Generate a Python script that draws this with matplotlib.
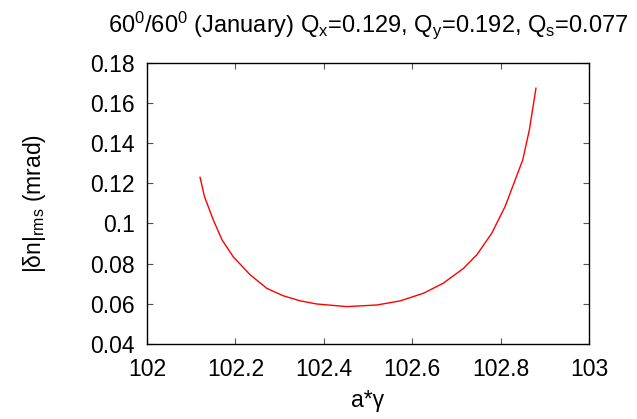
import matplotlib
matplotlib.use("Agg")
import matplotlib.pyplot as plt

plt.rcParams['font.family'] = ['Liberation Sans', 'DejaVu Sans']
plt.rcParams['mathtext.fontset'] = 'custom'
plt.rcParams['mathtext.rm'] = 'Liberation Sans'
plt.rcParams['mathtext.it'] = 'Liberation Sans'
plt.rcParams['mathtext.default'] = 'rm'

a_gamma = [102.12, 102.13, 102.15, 102.17, 102.195, 102.233, 102.271, 102.308,
           102.346, 102.384, 102.452, 102.52, 102.572, 102.625, 102.67, 102.716,
           102.746, 102.78, 102.81, 102.83, 102.85, 102.865, 102.88]
dn_rms = [0.1229, 0.1133, 0.1017, 0.0917, 0.0834, 0.0745, 0.0677, 0.0640,
          0.0615, 0.0599, 0.0586, 0.0594, 0.0614, 0.0652, 0.0702, 0.0776,
          0.0843, 0.0951, 0.1083, 0.1199, 0.1315, 0.1464, 0.1672]

xticks = [102, 102.2, 102.4, 102.6, 102.8, 103]
xticklabels = ['102', '102.2', '102.4', '102.6', '102.8', '103']
yticks = [0.04, 0.06, 0.08, 0.1, 0.12, 0.14, 0.16, 0.18]
yticklabels = ['0.04', '0.06', '0.08', '0.1', '0.12', '0.14', '0.16', '0.18']

fig = plt.figure(figsize=(6.37, 4.19), dpi=100)
ax = fig.add_axes([147/637, 1-344/419, (589-147)/637, (344-62.5)/419])

ax.plot(a_gamma, dn_rms, color='#ff0000', lw=1.0, solid_joinstyle='round')

ax.set_xlim(102, 103)
ax.set_ylim(0.04, 0.18)
ax.set_xticks(xticks)
ax.set_xticklabels(xticklabels)
ax.set_yticks(yticks)
ax.set_yticklabels(yticklabels)
ax.tick_params(direction='in', length=4, width=0.8, top=True, right=True,
               labelsize=16.5, color='#555555')
ax.tick_params(axis='y', pad=9)
ax.tick_params(axis='x', pad=10)
for s in ax.spines.values():
    s.set_linewidth(1.0)

ax.set_xlabel(r'a*γ', fontsize=16.5, labelpad=6)
ax.set_ylabel(r'|δn|$_{\rm rms}$ (mrad)', fontsize=16.5, labelpad=30)
ax.set_title(r'60$^0$/60$^0$ (January) Q$_x$=0.129, Q$_y$=0.192, Q$_s$=0.077',
             fontsize=17, pad=22)

fig.savefig('out.png', dpi=100)
